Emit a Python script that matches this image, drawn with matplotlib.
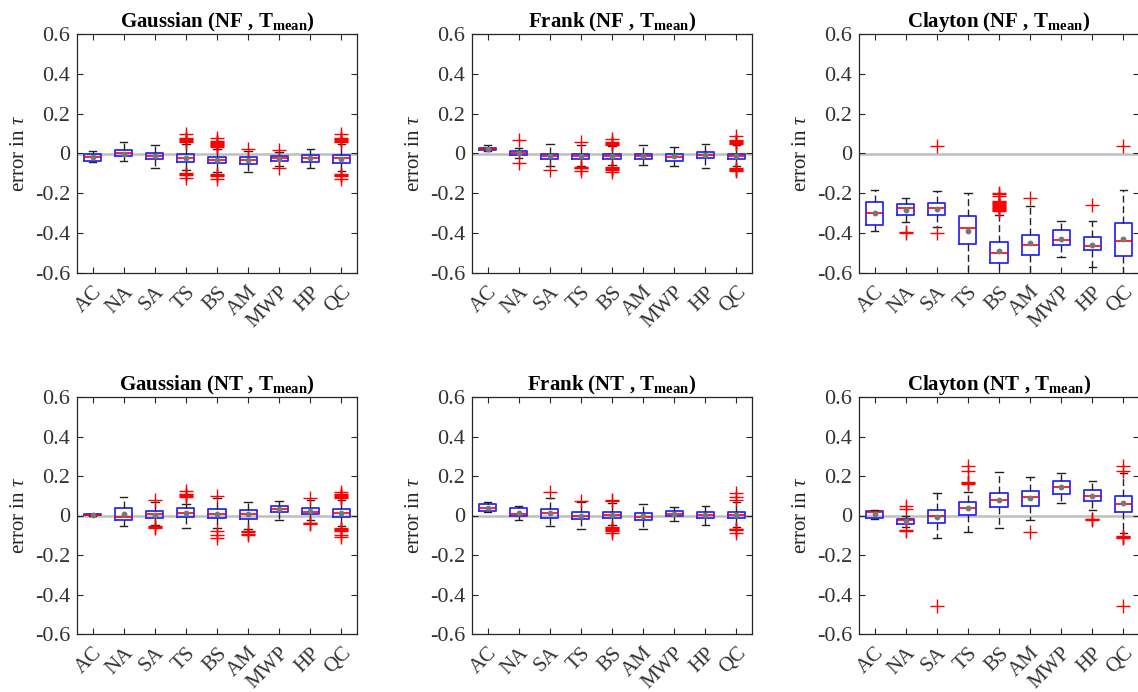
import numpy as np
import matplotlib
matplotlib.use("Agg")
import matplotlib.pyplot as plt

plt.rcParams['font.family'] = 'Liberation Serif'
plt.rcParams['mathtext.fontset'] = 'custom'
plt.rcParams['mathtext.rm'] = 'Liberation Serif'
plt.rcParams['mathtext.it'] = 'Liberation Serif:italic'
plt.rcParams['mathtext.bf'] = 'Liberation Serif:bold'

methods = ['AC', 'NA', 'SA', 'TS', 'BS', 'AM', 'MWP', 'HP', 'QC']

# rows: lower whisker, q1, median, q3, upper whisker, mean  (columns follow methods)
gauss_nf = np.array([
    [-0.045, -0.037, -0.075, -0.085, -0.095, -0.092, -0.065, -0.075, -0.09],
    [-0.040, -0.013, -0.030, -0.042, -0.050, -0.053, -0.038, -0.042, -0.047],
    [-0.017, 0.003, -0.012, -0.022, -0.033, -0.033, -0.025, -0.023, -0.025],
    [-0.005, 0.020, 0.003, -0.005, -0.017, -0.020, -0.012, -0.010, -0.008],
    [0.015, 0.058, 0.045, 0.047, 0.025, 0.015, 0.010, 0.025, 0.047],
    [-0.020, 0.000, -0.015, -0.025, -0.035, -0.035, -0.027, -0.025, -0.027],
])
gauss_nf_out = [[], [], [],
                [0.06, 0.065, 0.07, 0.075, 0.08, 0.10, -0.10, -0.105, -0.11, -0.125],
                [0.035, 0.04, 0.045, 0.05, 0.055, 0.06, 0.065, 0.08, -0.105, -0.11, -0.115, -0.13],
                [0.025], [0.02, -0.075], [],
                [0.06, 0.065, 0.07, 0.075, 0.08, 0.10, -0.105, -0.11, -0.115, -0.13]]

frank_nf = np.array([
    [0.015, -0.022, -0.064, -0.065, -0.060, -0.060, -0.063, -0.072, -0.065],
    [0.017, -0.010, -0.030, -0.030, -0.030, -0.027, -0.038, -0.025, -0.030],
    [0.025, 0.003, -0.013, -0.013, -0.013, -0.013, -0.017, -0.008, -0.013],
    [0.030, 0.015, 0.000, 0.000, 0.000, 0.000, -0.005, 0.008, 0.000],
    [0.045, 0.028, 0.050, 0.045, 0.040, 0.042, 0.033, 0.050, 0.045],
    [0.022, 0.002, -0.012, -0.012, -0.013, -0.012, -0.015, -0.008, -0.012],
])
frank_nf_out = [[], [0.07, -0.05], [-0.085],
                [0.06, -0.07, -0.072, -0.075, -0.09],
                [0.045, 0.05, 0.055, 0.06, 0.075, -0.07, -0.075, -0.08, -0.085, -0.095],
                [], [], [],
                [0.05, 0.055, 0.06, 0.065, 0.07, 0.09, -0.072, -0.077, -0.082, -0.09]]

clayton_nf = np.array([
    [-0.390, -0.343, -0.370, -0.650, -0.650, -0.650, -0.519, -0.568, -0.650],
    [-0.360, -0.309, -0.309, -0.454, -0.550, -0.508, -0.457, -0.487, -0.516],
    [-0.297, -0.272, -0.276, -0.376, -0.499, -0.457, -0.435, -0.464, -0.440],
    [-0.242, -0.255, -0.247, -0.314, -0.444, -0.407, -0.385, -0.420, -0.348],
    [-0.185, -0.225, -0.188, -0.197, -0.310, -0.264, -0.340, -0.340, -0.185],
    [-0.297, -0.286, -0.280, -0.387, -0.491, -0.450, -0.427, -0.457, -0.429],
])
clayton_nf_out = [[], [-0.395, -0.40], [0.04, -0.40], [],
                  [-0.2, -0.205, -0.215, -0.24, -0.245, -0.25, -0.255, -0.26, -0.265,
                   -0.27, -0.275, -0.28, -0.285, -0.29],
                  [-0.222], [], [-0.26], [0.04]]

gauss_nt = np.array([
    [0.000, -0.055, -0.050, -0.064, -0.065, -0.070, -0.022, -0.025, -0.055],
    [0.003, -0.022, -0.013, -0.008, -0.013, -0.017, 0.017, 0.007, -0.010],
    [0.005, -0.008, 0.007, 0.015, 0.008, 0.007, 0.034, 0.020, 0.012],
    [0.008, 0.037, 0.024, 0.037, 0.032, 0.029, 0.049, 0.040, 0.034],
    [0.010, 0.096, 0.068, 0.060, 0.088, 0.067, 0.071, 0.079, 0.080],
    [0.005, 0.008, 0.005, 0.015, 0.010, 0.008, 0.032, 0.022, 0.012],
])
gauss_nt_out = [[], [], [0.08, -0.055, -0.06, -0.065],
                [0.095, 0.10, 0.105, 0.11, 0.125],
                [0.10, -0.077, -0.098, -0.114],
                [-0.078, -0.082, -0.095, -0.10],
                [], [0.088, -0.038, -0.04, -0.045],
                [0.09, 0.095, 0.10, 0.105, 0.11, 0.12, -0.064, -0.068, -0.072, -0.076, -0.10, -0.11]]

frank_nt = np.array([
    [0.020, -0.025, -0.052, -0.067, -0.050, -0.067, -0.030, -0.047, -0.060],
    [0.024, -0.005, -0.013, -0.019, -0.013, -0.025, -0.005, -0.013, -0.013],
    [0.037, 0.007, 0.012, -0.002, 0.003, -0.008, 0.008, 0.002, 0.003],
    [0.057, 0.037, 0.032, 0.017, 0.020, 0.012, 0.024, 0.017, 0.020],
    [0.066, 0.049, 0.088, 0.068, 0.065, 0.057, 0.045, 0.049, 0.070],
    [0.040, 0.012, 0.012, 0.000, 0.003, -0.005, 0.008, 0.002, 0.003],
])
frank_nt_out = [[], [], [0.12], [0.075],
                [0.072, 0.076, -0.06, -0.065, -0.07, -0.075, -0.078, -0.09],
                [], [], [],
                [0.08, 0.095, 0.112, -0.068, -0.07, -0.072, -0.09]]

clayton_nt = np.array([
    [-0.019, -0.060, -0.114, -0.084, -0.064, -0.025, 0.061, 0.029, -0.090],
    [-0.013, -0.044, -0.039, 0.003, 0.042, 0.050, 0.109, 0.071, 0.020],
    [0.017, -0.025, -0.005, 0.037, 0.076, 0.094, 0.146, 0.099, 0.059],
    [0.025, -0.017, 0.029, 0.067, 0.116, 0.125, 0.177, 0.130, 0.101],
    [0.029, -0.005, 0.113, 0.120, 0.219, 0.197, 0.214, 0.173, 0.217],
    [0.007, -0.027, -0.010, 0.040, 0.079, 0.091, 0.145, 0.099, 0.062],
])
clayton_nt_out = [[], [0.033, 0.05, -0.075, -0.078], [-0.456],
                  [0.162, 0.165, 0.168, 0.227, 0.252], [], [-0.084], [],
                  [-0.018, -0.02, -0.022],
                  [0.227, 0.252, -0.105, -0.108, -0.11, -0.112, -0.456]]

panels = [
    ('Gaussian', 'NF', gauss_nf, gauss_nf_out),
    ('Frank', 'NF', frank_nf, frank_nf_out),
    ('Clayton', 'NF', clayton_nf, clayton_nf_out),
    ('Gaussian', 'NT', gauss_nt, gauss_nt_out),
    ('Frank', 'NT', frank_nt, frank_nt_out),
    ('Clayton', 'NT', clayton_nt, clayton_nt_out),
]

fig = plt.figure(figsize=(11.38, 6.92), dpi=100)
lefts = [77, 472, 859]
tops = [34, 397]
heights = [239, 237]
W, H = 1138.0, 692.0
axcol = '#262626'

for i, (name, kind, tab, outs) in enumerate(panels):
    r, c = divmod(i, 3)
    ax = fig.add_axes([lefts[c] / W, 1 - (tops[r] + heights[r]) / H, 280 / W, heights[r] / H])
    stats = []
    for j in range(len(methods)):
        stats.append(dict(whislo=tab[0, j], q1=tab[1, j], med=tab[2, j], q3=tab[3, j],
                          whishi=tab[4, j], mean=tab[5, j], fliers=outs[j]))
    ax.axhline(0, color='#bfbfbf', lw=1.8, zorder=1)
    ax.bxp(stats, positions=np.arange(1, 10), widths=0.55, capwidths=0.24,
           showmeans=True, patch_artist=False,
           boxprops=dict(color='#2a2aff', lw=1.3),
           medianprops=dict(color='red', lw=1.2),
           whiskerprops=dict(color='#222222', lw=1.0, linestyle=(0, (5, 2.5))),
           capprops=dict(color='#222222', lw=1.0),
           meanprops=dict(marker='o', markersize=3.2, markerfacecolor='#777777',
                          markeredgecolor='#777777'),
           flierprops=dict(marker='+', markersize=10, markeredgecolor='red',
                           markeredgewidth=1.0))
    ax.set_xlim(0.5, 9.5)
    ax.set_ylim(-0.6, 0.6)
    ax.set_yticks(np.arange(-0.6, 0.61, 0.2))
    ax.set_yticklabels(['-0.6', '-0.4', '-0.2', '0', '0.2', '0.4', '0.6'])
    ax.set_xticks(np.arange(1, 10))
    ax.set_xticklabels(methods, rotation=45, ha='right', va='top',
                       rotation_mode='anchor')
    ax.tick_params(direction='in', length=4, width=0.8, top=True, right=True,
                   colors=axcol, labelsize=16, labelcolor='#333333')
    ax.tick_params(axis='x', pad=7, labelsize=15)
    ax.tick_params(axis='y', pad=5)
    for s in ax.spines.values():
        s.set_color(axcol)
        s.set_linewidth(0.9)
    ax.set_ylabel(r'error in $\tau$', fontsize=15, color='#262626', labelpad=4)
    ax.set_title(name + ' (' + kind + r' , T$_{\mathbf{mean}}$)', fontsize=15,
                 fontweight='bold', color='black', pad=5)

fig.savefig('out.png', dpi=100)
